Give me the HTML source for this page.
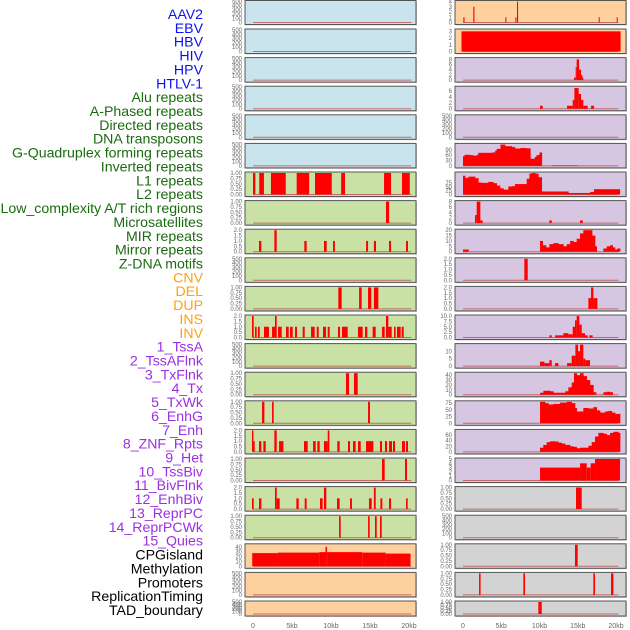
<!DOCTYPE html>
<html><head><meta charset="utf-8"><style>
html,body{margin:0;padding:0;background:#fff;width:630px;height:630px;overflow:hidden}
svg{display:block;font-family:"Liberation Sans",sans-serif}
</style></head><body>
<svg id="chart" width="630" height="630" viewBox="0 0 630 630"></svg>
<script>
const labels=["AAV2","EBV","HBV","HIV","HPV","HTLV-1","Alu repeats","A-Phased repeats","Directed repeats","DNA transposons","G-Quadruplex forming repeats","Inverted repeats","L1 repeats","L2 repeats","Low_complexity A/T rich regions","Microsatellites","MIR repeats","Mirror repeats","Z-DNA motifs","CNV","DEL","DUP","INS","INV","1_TssA","2_TssAFlnk","3_TxFlnk","4_Tx","5_TxWk","6_EnhG","7_Enh","8_ZNF_Rpts","9_Het","10_TssBiv","11_BivFlnk","12_EnhBiv","13_ReprPC","14_ReprPCWk","15_Quies","CPGisland","Methylation","Promoters","ReplicationTiming","TAD_boundary"];
const labelGroups=[6,13,5,15,5];
const groupColors=["#1010ee","#1a6b10","#ffa010","#9a30e0","#000000"];
const xTickValues=[0,5,10,15,20];
const xTickLabels=["0","5kb","10kb","15kb","20kb"];
const E=null;
const leftYmax=[500,500,500,500,500,500,1,1,2,500,1,2,500,1,1,2,1,2,1,44,500,500];
const leftTicks=[[0,100,200,300,400,500],[0,100,200,300,400,500],[0,100,200,300,400,500],[0,100,200,300,400,500],[0,100,200,300,400,500],[0,100,200,300,400,500],
[0,0.25,0.5,0.75,1],[0,0.25,0.5,0.75,1],[0,0.5,1,1.5,2],[0,100,200,300,400,500],[0,0.25,0.5,0.75,1],[0,0.5,1,1.5,2],[0,100,200,300,400,500],[0,0.25,0.5,0.75,1],[0,0.25,0.5,0.75,1],[0,0.5,1,1.5,2],[0,0.25,0.5,0.75,1],[0,0.5,1,1.5,2],[0,0.25,0.5,0.75,1],[0,10,20,30,40],[0,100,200,300,400,500],[0,100,200,300,400,500]];
const leftBars=[[],[],[],[],[],[],
[[0,0.3,1],[0.8,1.4,1],[2.3,4.2,1],[5.6,7.2,1],[7.95,10.1,1],[11.3,11.8,1],[16.8,17.7,1],[19.1,20.1,1]],
[[17.05,17.45,1]],
[[0.77,1.07,1],[2.74,3.04,2],[6.58,6.88,1],[9.1,9.45,1],[10.26,10.5,1],[14.5,14.75,1],[15.5,15.77,1],[17.44,17.7,1],[19.62,19.87,1]],
[],
[[10.94,11.37,1],[13.6,13.93,1],[14.75,15.17,1],[15.5,16.07,1]],
[[-0.13,0.09,2],[0.26,0.47,1],[0.64,0.86,1],[1.41,2.05,1],[2.44,2.82,1],[2.82,3.04,2],[3.21,3.68,1],[4.23,4.58,1],[4.75,5.09,1],[5.39,5.64,1],[6.37,6.63,1],[7.44,7.91,1],[8.17,8.42,1],[8.98,9.36,1],[9.58,9.83,1],[10.9,11.16,1],[11.41,12.14,1],[13.46,14.06,1],[14.36,14.66,1],[15.34,15.73,1],[16.54,16.88,1],[17.05,17.35,2],[17.35,17.78,1],[18.08,18.29,1],[18.46,18.93,1],[19.06,19.32,1]],
[],
[[11.92,12.31,1],[12.95,13.42,1]],
[[1.16,1.46,1],[2.44,2.65,1],[14.75,15.0,1]],
[[-0.13,0.05,2],[0.05,0.22,1],[0.77,1.07,1],[1.33,1.63,1],[2.74,3.04,2],[3.34,3.9,1],[6.54,7.01,1],[7.7,8.04,1],[8.25,8.55,1],[9.1,9.58,1],[9.58,9.79,2],[10.81,11.11,1],[12.18,12.44,1],[12.82,13.16,1],[13.46,13.81,1],[14.49,15.43,1],[16.28,16.54,1],[16.92,17.18,1],[17.44,17.82,1],[17.95,18.21,1],[19.1,19.49,1],[19.62,19.87,1]],
[[16.54,16.88,1],[19.49,19.74,1]],
[[-0.13,0.09,1],[0.77,1.07,1],[2.82,3.04,2],[3.04,3.42,1],[5.56,5.86,1],[6.63,6.88,1],[8.59,8.93,1],[9.1,9.4,2],[10.77,11.11,1],[12.44,12.69,1],[14.87,15.22,1],[15.5,15.73,2],[16.33,16.58,1],[17.44,17.7,1],[19.62,19.83,1]],
[[11.03,11.24,1],[14.75,14.96,1],[15.64,15.86,1],[16.28,16.5,1]],
[[-0.1,3.2,27],[3.2,8.5,28],[8.5,9.3,29],[9.3,9.5,40],[9.5,14,29],[14,17,28],[17,20.2,26]],
[],[]];
const rightYmax=[4,3.2,8.3,7.3,500,120,142,8,20,2,2,10,14.5,44,80,77,5,1,500,1,1,1];
const rightTicks=[[0,1,2,3,4],[0,1,2,3],[0,2,4,6,8],[0,2,4,6],[0,100,200,300,400,500],[0,30,60,90],[0,25,50,75],[0,2,4,6,8],[0,5,10,15,20],[0,0.5,1,1.5,2],[0,0.5,1,1.5,2],[0,2.5,5,7.5,10],[0,5,10],[0,10,20,30,40],[0,25,50,75],[0,20,40,60],[0,1,2,3,4,5],[0,0.25,0.5,0.75,1],[0,100,200,300,400,500],[0,0.25,0.5,0.75,1],[0,0.25,0.5,0.75,1],[0,0.25,0.5,0.75,1]];
const rightBars=[
[[0.05,0.2,1],[1.35,1.5,3],[5.54,5.67,1],[6.85,6.98,1],[7.06,7.2,4],[17.74,17.83,1],[20.09,20.22,1]],
[[-0.2,20.6,3]],
[[14.51,14.73,1],[14.73,14.86,5],[14.86,15.17,8],[15.17,15.43,4],[15.43,15.6,2],[15.6,15.7,1]],
[[10.07,10.42,1],[13.6,14.34,1],[14.34,14.56,3],[14.56,15.12,7],[15.12,15.43,5],[15.43,15.73,3],[15.73,16.3,1],[16.74,17.13,1]],
[],[],[],
[[1.57,1.79,3],[1.79,2.27,8],[2.27,2.57,1],[11.29,11.6,1],[15.3,15.65,1]],
[[0,0.75,2]],
[[8.02,8.46,2]],
[[16.39,16.74,1],[16.74,17.04,2],[17.04,17.57,1]],
[[11.29,11.6,1],[12.03,13.12,1],[13.12,13.77,2],[13.77,14.34,1.5],[14.34,14.64,5],[14.64,14.86,8],[14.86,15.21,10],[15.21,15.52,6],[15.52,15.95,2],[15.95,16.3,1],[16.52,16.95,1]],
[[10.07,10.64,3],[10.64,11.29,2],[11.29,11.6,4],[12.03,12.47,2],[13.6,14.21,2],[14.21,14.69,7],[14.69,15.04,15],[15.04,15.3,10],[15.3,15.73,15],[15.73,15.99,5],[15.99,16.6,4]],
[],[],[],
[[10.07,15.3,3],[15.3,16.17,4],[16.17,16.69,3],[16.69,17.26,4],[17.26,20.53,5]],
[[14.77,15.52,1]],
[],
[[14.64,14.99,1]],
[[2.1,2.3,1],[7.89,8.11,1],[17.04,17.26,1],[19.35,19.66,1]],
[[9.85,10.29,1]]];
const profileR5=[[0,54],[0.2,62],[0.9,60],[1.35,57],[1.8,62],[2.0,73],[2.7,73],[3.8,75],[4.2,85],[4.4,95],[4.9,119],[5.5,110],[6.4,105],[6.8,97],[7.5,100],[8.3,98],[8.8,40],[9.2,40],[9.4,50],[9.6,60],[10.0,75],[10.3,E],[11.7,3],[14.9,E]];
const profileR6=[[0,124],[0.27,110],[0.7,118],[1.57,108],[2.0,79],[2.3,77],[3.3,83],[3.97,75],[4.4,59],[4.84,41],[5.28,32],[5.93,53],[6.37,55],[6.8,69],[7.67,69],[8.33,104],[8.68,138],[8.98,142],[9.42,138],[9.85,114],[10.29,20],[13.77,10],[16.6,16],[17.13,35],[20.5,E]];
const profileR8=[[10.07,10],[10.42,6],[10.85,4],[11.29,7],[11.81,8],[12.47,7],[13.12,5],[13.56,7],[14.0,10],[14.43,9],[14.86,12],[15.3,17],[15.73,20],[16.39,20],[16.87,15],[17.26,5],[17.48,E],[18.35,3],[18.79,5],[19.22,6],[19.57,4],[19.87,2],[20.18,3],[20.53,E]];
const profileR13=[[10.07,4],[10.5,8],[11.38,7],[11.81,4],[12.9,4],[13.34,7],[13.77,15],[14.21,25],[14.51,45],[14.86,40],[15.3,45],[15.73,38],[16.17,30],[16.6,20],[17.04,5],[17.39,E],[18.35,5],[18.79,6],[19.22,5],[19.57,E]];
const profileR14=[[10.07,80],[10.72,75],[11.16,70],[11.81,72],[12.68,77],[13.56,80],[14.21,75],[14.64,57],[14.86,44],[15.39,44],[15.73,57],[16.39,55],[17.04,60],[17.48,48],[17.91,40],[18.57,44],[19.0,46],[19.44,40],[19.87,35],[20.53,E]];
const profileR15=[[10.07,15],[10.5,25],[10.94,35],[11.38,38],[12.03,37],[12.47,33],[12.9,30],[13.34,25],[14.0,20],[14.43,18],[14.86,13],[15.3,15],[15.95,15],[16.39,22],[16.82,35],[17.26,55],[17.7,68],[18.35,65],[18.79,60],[19.22,68],[19.66,72],[20.31,68],[20.53,E]];
const rightProfiles={5:profileR5,6:profileR6,8:profileR8,13:profileR13,14:profileR14,15:profileR15};

const svg=document.getElementById('chart');
const NS='http://www.w3.org/2000/svg';
function mk(tag,attrs,parent){const e=document.createElementNS(NS,tag);for(const k in attrs)e.setAttribute(k,attrs[k]);(parent||svg).appendChild(e);return e;}
function rowTop(r){return r===0?0.5:29+(r-1)*28.6;}
function rowH(r){return r===0?24:(r===21?15:24.5);}
function bgLeft(r){return r<6?'#c9e4ec':(r<19?'#c9e1a5':'#fdd09e');}
function bgRight(r){return r<2?'#fdd09e':(r<17?'#d6c6e2':'#d3d3d3');}
function fmt(t,ticks){const mx=ticks[ticks.length-1];if(mx===1)return t.toFixed(2);if(mx===2||mx===10&&ticks[1]===2.5)return t.toFixed(1);return String(t);}

let li=0;
labelGroups.forEach((n,g)=>{for(let k=0;k<n;k++){const t=mk('text',{x:203,y:14+li*13.86+5,'text-anchor':'end','font-size':'14.15',fill:groupColors[g]});


t.textContent=labels[li];li++;}});

function panel(side,r,ymax,ticks,bars,profile){
  const bx=side==='L'?245:455, x0=side==='L'?253:463, sc=side==='L'?7.8:7.65;
  const top=rowTop(r),h=rowH(r),bot=top+h;
  const g=mk('g',{});
  
  
  const X=v=>x0+v*sc;
  const Y=v=>bot-2-Math.min(v,ymax)/ymax*(h-3);
  mk('rect',{x:bx+1,y:top+1,width:171,height:h,fill:'#999',opacity:0.5},g);
  mk('rect',{x:bx,y:top,width:171,height:h,fill:side==='L'?bgLeft(r):bgRight(r),stroke:'#555','stroke-width':1},g);
  mk('line',{x1:X(0),x2:X(20.3),y1:Y(0),y2:Y(0),stroke:'#c05050','stroke-width':1,opacity:0.8},g);
  bars.forEach(b=>{const rc=mk('rect',{x:X(b[0]),y:Y(b[2]),width:Math.max(1,X(b[1])-X(b[0])),height:Y(0)-Y(b[2]),fill:'#ff0000'},g);
    
    });
  if(profile){for(let i=0;i<profile.length-1;i++){const p=profile[i];if(p[1]===E)continue;const q=profile[i+1];
    const rc=mk('rect',{x:X(p[0]),y:Y(p[1]),width:X(q[0])-X(p[0])+0.3,height:Y(0)-Y(p[1]),fill:'#ff0000'},g);
    
    }}
  ticks.forEach(t=>{const ty=Y(t);if(ty<top-3)return;const tx=mk('text',{x:bx-3,y:ty+2,'text-anchor':'end','font-size':'6',fill:'#666'},g);
    
    
    tx.textContent=fmt(t,ticks);});
}
for(let r=0;r<22;r++){panel('L',r,leftYmax[r],leftTicks[r],leftBars[r],null);panel('R',r,rightYmax[r],rightTicks[r],rightBars[r],rightProfiles[r]);}
[['L',253,7.8],['R',463,7.65]].forEach(s=>{xTickValues.forEach((v,i)=>{const t=mk('text',{x:s[1]+v*s[2],y:628,'text-anchor':'middle','font-size':'7',fill:'#666'});
  
  
  t.textContent=xTickLabels[i];});});
</script>
</body></html>
